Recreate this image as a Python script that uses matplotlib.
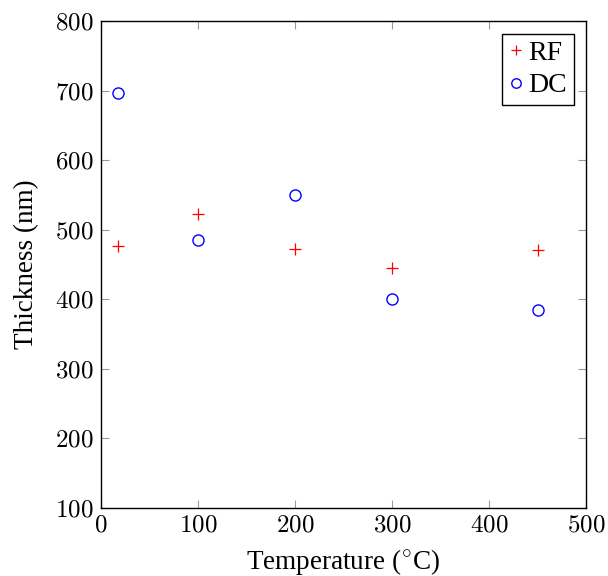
import matplotlib
matplotlib.use("Agg")
import matplotlib.pyplot as plt

plt.rcParams['font.family'] = ['Liberation Serif', 'DejaVu Serif']
plt.rcParams['mathtext.fontset'] = 'cm'

temperature = [18, 100, 200, 300, 450]
rf_thickness = [477, 522, 472, 445, 471]
dc_thickness = [696, 485, 550, 401, 385]
xticks = [0, 100, 200, 300, 400, 500]
yticks = [100, 200, 300, 400, 500, 600, 700, 800]

fig = plt.figure(figsize=(6.08, 5.76), dpi=100)
ax = fig.add_axes([0.166, 0.118, 0.798, 0.8455])

ax.plot(temperature, rf_thickness, linestyle='none', marker='+', color='red',
        markersize=9, markeredgewidth=0.9, label='RF')
ax.plot(temperature, dc_thickness, linestyle='none', marker='o', color='blue',
        markerfacecolor='none', markersize=8, markeredgewidth=1.0, label='DC')

ax.set_xlim(0, 500)
ax.set_ylim(100, 800)
ax.set_xticks(xticks)
ax.set_yticks(yticks)
ax.set_xticklabels([f'${v}$' for v in xticks])
ax.set_yticklabels([f'${v}$' for v in yticks])
ax.tick_params(direction='in', top=True, right=True, length=6, width=0.8,
               color='#999999', labelsize=18, pad=5)
for s in ax.spines.values():
    s.set_linewidth(1.0)
    s.set_color('black')

ax.set_xlabel('Temperature ($^{\\circ}$C)', fontsize=19.5, labelpad=7.5)
ax.set_ylabel('Thickness (nm)', fontsize=19.5, labelpad=12)

leg = ax.legend(loc='upper right', fontsize=20, fancybox=False, framealpha=1,
                edgecolor='black', handlelength=0.5, handletextpad=0.2,
                borderpad=0.25, labelspacing=0.25, borderaxespad=0.45,
                markerscale=0.85)
leg.get_frame().set_linewidth(1.0)

fig.savefig('out.png', dpi=100)
